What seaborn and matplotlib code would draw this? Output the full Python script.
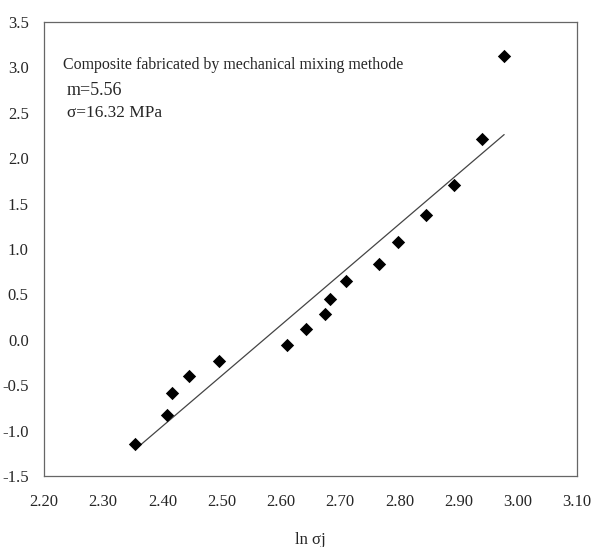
import pandas as pd
import seaborn as sns
import matplotlib.pyplot as plt

# Weibull plot data:
ln_sigma = [2.354, 2.407, 2.416, 2.445, 2.496, 2.610, 2.642, 2.675, 2.683,
            2.710, 2.766, 2.798, 2.845, 2.893, 2.940, 2.976]
ln_ln = [-1.15, -0.83, -0.59, -0.40, -0.23, -0.06, 0.12, 0.28, 0.45,
         0.65, 0.84, 1.08, 1.37, 1.71, 2.21, 3.13]

# Fitted line end points:
fit_x = [2.359, 2.977]
fit_y = [-1.18, 2.26]

x_ticks = [2.20, 2.30, 2.40, 2.50, 2.60, 2.70, 2.80, 2.90, 3.00, 3.10]
y_ticks = [-1.5, -1.0, -0.5, 0.0, 0.5, 1.0, 1.5, 2.0, 2.5, 3.0, 3.5]

df = pd.DataFrame({'x': ln_sigma, 'y': ln_ln})
fit_df = pd.DataFrame({'x': fit_x, 'y': fit_y})

sns.set_style('white')
plt.rcParams['font.family'] = ['Liberation Serif', 'DejaVu Serif']

fig = plt.figure(figsize=(5.93, 5.47), dpi=100)
ax = fig.add_axes([0.0742, 0.1298, 0.8988, 0.830])

sns.lineplot(data=fit_df, x='x', y='y', color='#444444', linewidth=0.9, ax=ax)
sns.scatterplot(data=df, x='x', y='y', marker='D', color='black', s=46,
                edgecolor='black', linewidth=0, ax=ax, zorder=3)

ax.set_xlim(2.20, 3.10)
ax.set_ylim(-1.5, 3.5)
ax.set_xticks(x_ticks)
ax.set_xticklabels([f'{v:.2f}' for v in x_ticks])
ax.set_yticks(y_ticks)
ax.set_yticklabels([f'{v:.1f}' for v in y_ticks])
ax.tick_params(axis='both', direction='in', length=5, width=0.8,
               color='#777777', labelsize=12)
ax.tick_params(axis='x', pad=13)
ax.tick_params(axis='y', pad=11)
for sp in ax.spines.values():
    sp.set_color('#666666')
    sp.set_linewidth(0.9)

ax.set_xlabel('ln σj', fontsize=12, labelpad=16)
ax.set_ylabel('')

ax.text(0.036, 0.905, 'Composite fabricated by mechanical mixing methode',
        transform=ax.transAxes, fontsize=11.4, va='center', ha='left')
ax.text(0.043, 0.850, 'm=5.56', transform=ax.transAxes, fontsize=13,
        va='center', ha='left')
ax.text(0.043, 0.800, 'σ=16.32 MPa', transform=ax.transAxes, fontsize=12.4,
        va='center', ha='left')

fig.savefig('out.png', dpi=100)
